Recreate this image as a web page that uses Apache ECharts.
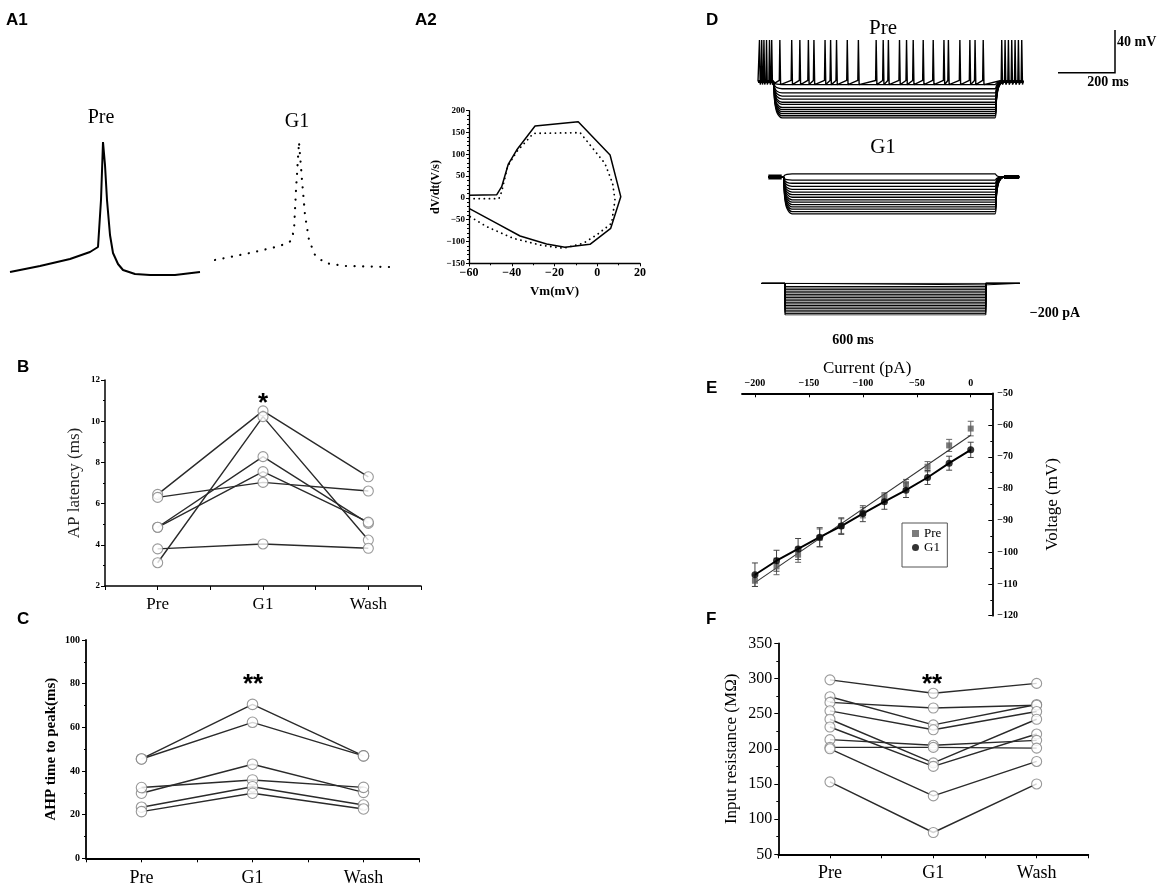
<!DOCTYPE html>
<html><head><meta charset="utf-8">
<script src="https://cdn.jsdelivr.net/npm/echarts@6/dist/echarts.min.js"></script>
<style>html,body{margin:0;padding:0;background:#fff}#c{width:1169px;height:895px}</style>
</head><body><div id="c"></div>
<script>
// ================= DATA =================
const groups = ['Pre', 'G1', 'Wash'];

// A1: single action potentials (time ms, Vm mV)
const a1PreTrace = [[0,-73.6],[15,-68.8],[30,-63.2],[40,-57.6],[44,-53.6],[45.5,-16],[46.5,30.4],[47.5,12],[48.5,-16],[50,-44],[51.5,-58.4],[54,-67.2],[56.5,-72],[62.5,-75.2],[70,-76],[82.5,-76],[95,-73.6]];
const a1G1Trace = [[0,-64],[17.5,-58.4],[32.5,-52.8],[38,-48.8],[39.5,-40],[40.5,-8],[42,30.4],[43.5,0],[45,-28],[47,-48],[50,-60],[55,-66.4],[65,-68.8],[87.5,-69.6]];

// A2: phase plots (Vm mV, dV/dt V/s)
const a2Pre = [[-60,5.9],[-47,7.4],[-44.7,25.7],[-41.6,77.6],[-37.7,109.7],[-29.1,164.8],[-8.9,174.8],[6,98.3],[11,2.8],[6.3,-69.8],[-3.4,-106.5],[-15.1,-113.4],[-23.7,-105.7],[-36.1,-87.4],[-47,-58.3],[-60,-23.9]];
const a2G1 = [[-60,-1.7],[-46,-1.7],[-44.7,14.3],[-42,71.5],[-37.7,106],[-29.9,148],[-8,149.6],[3.6,79],[7.2,33],[8.3,-4.8],[6.7,-58.3],[-0.3,-85],[-6.5,-104],[-15.9,-115.6],[-26.8,-108],[-39.3,-92.7],[-51.7,-66],[-59.5,-43]];

// D: step protocol traces
const dPreTiming = [0, 41, 640, 716];      // start, step on, step off, end (ms)
const dPreBase = -60;
const dPreSpikePeak = -20;
const dPreLevels = [-63, -67, -71, -74, -77, -80, -82, -85, -87, -89, -91, -93, -95];
const dPreSpikeTimes = [4,10,16,23,31,37,59,91,113,136,151,181,196,212,241,271,319,338,352,382,401,419,446,473,502,514,545,572,586,608,658,667,676,685,694,703,712];
const dG1Timing = [28, 68, 640, 705];
const dG1Base = -60;
const dG1Levels = [-57, -63, -66, -69, -72, -74.5, -77, -79.5, -82, -84.3, -86.6, -88.8, -91, -93.3, -95.5];
const dCurrentTiming = [10, 73, 615, 707];
const dCurrents = [0,-10,-20,-30,-40,-50,-60,-70,-80,-90,-100,-110,-120,-130,-140,-150,-160,-170,-180,-190,-200];

// B: AP latency (ms), one row per cell: Pre, G1, Wash
const bLatency = [[6.45,10.5,7.3],[3.13,10.22,4.23],[4.85,8.28,5.04],[4.85,7.55,5.1],[6.3,7.03,6.61],[3.8,4.04,3.83]];
// C: AHP time to peak (ms)
const cAhp = [[45.5,70.5,46.9],[45.5,62.3,46.9],[29.8,43.1,30.2],[32.4,35.9,32.5],[23.4,32.8,24.4],[21.4,29.8,22.6]];
// E: I-V relation
const eCurrent = [0,-20,-40,-60,-80,-100,-120,-140,-160,-180,-200];
const ePreV = [-61.1,-66.4,-73.1,-78.6,-82.8,-87.6,-91.8,-95.5,-100.8,-104.5,-109];
const ePreErr = [2.3,1.9,1.6,1.5,1.5,1.6,2.3,2.8,2.4,2.6,1.8];
const eG1V = [-67.8,-72,-76.5,-80.5,-84.1,-87.9,-91.8,-95.3,-99,-102.7,-107.1];
const eG1Err = [2.4,2.2,2.2,2.3,2.4,2.5,2.6,3.0,3.3,3.3,3.7];
const ePreFit = [[-200,-109.6],[0,-63.2]];
// F: input resistance (MOhm)
const fRin = [[298,279,293],[274,234,263],[266,258,262],[254,227,253],[242,180,242],[231,175,221],[213,205,212],[202,202,201],[200,133,182],[153,81,150]];

// ================= BUILD =================
const serif = '"Liberation Serif","Times New Roman",serif';
const sans = '"Liberation Sans",Arial,sans-serif';
const minus = v => String(v).replace('-', '\u2212');

const grids = [], xAxes = [], yAxes = [], series = [];
function hiddenGrid(g, xr, yr) {
  const i = grids.length;
  grids.push(Object.assign({containLabel:false}, g));
  xAxes.push({type:'value', gridIndex:i, min:xr[0], max:xr[1], show:false});
  yAxes.push({type:'value', gridIndex:i, min:yr[0], max:yr[1], show:false});
  return i;
}
function addLine(gi, data, style, extra) {
  series.push(Object.assign({type:'line', xAxisIndex:gi, yAxisIndex:gi, data, showSymbol:false, silent:true,
    animation:false, lineStyle:Object.assign({color:'#000', width:1.5}, style)}, extra || {}));
}

// --- A1
const gA1p = hiddenGrid({left:10, top:130, width:190, height:150}, [0,95], [-80,40]);
addLine(gA1p, a1PreTrace, {width:2});
const gA1g = hiddenGrid({left:215, top:130, width:175, height:150}, [0,87.5], [-80,40]);
addLine(gA1g, a1G1Trace, {width:2.2, type:[0.1,8.5], cap:'round'});

// --- A2
const gA2 = grids.length;
grids.push({left:469, top:110.7, width:171, height:152.6});
xAxes.push({type:'value', gridIndex:gA2, min:-60, max:20, interval:20,
  name:'Vm(mV)', nameLocation:'middle', nameGap:22,
  nameTextStyle:{fontFamily:serif, fontWeight:'bold', fontSize:13, color:'#000'},
  axisLine:{onZero:false, lineStyle:{color:'#000', width:1.3}},
  axisTick:{length:3, lineStyle:{color:'#000'}}, minorTick:{show:true, splitNumber:2, length:2, lineStyle:{color:'#000'}},
  splitLine:{show:false},
  axisLabel:{fontFamily:serif, fontWeight:'bold', fontSize:12, color:'#000', margin:4, formatter:minus}});
yAxes.push({type:'value', gridIndex:gA2, min:-150, max:200, interval:50,
  name:'dV/dt(V/s)', nameLocation:'middle', nameGap:27,
  nameTextStyle:{fontFamily:serif, fontWeight:'bold', fontSize:12, color:'#000'},
  axisLine:{show:true, onZero:false, lineStyle:{color:'#000', width:1.3}},
  axisTick:{show:true, length:3, lineStyle:{color:'#000'}}, minorTick:{show:true, splitNumber:5, length:2, lineStyle:{color:'#000'}},
  splitLine:{show:false},
  axisLabel:{fontFamily:serif, fontWeight:'bold', fontSize:9, color:'#000', margin:4, formatter:minus}});
addLine(gA2, a2Pre, {width:1.5});
addLine(gA2, a2G1, {width:1.8, type:[0.1,5], cap:'round'});

// --- D
function stepTrace(tm, base, lvl) {
  const d = lvl - base;
  return [[tm[0],base],[tm[1],base],[tm[1]+4,base+d*0.55],[tm[1]+10,base+d*0.85],[tm[1]+24,lvl],
          [tm[2],lvl],[tm[2]+4,lvl-d*0.5],[tm[2]+10,lvl-d*0.85],[tm[2]+24,base],[tm[3],base]];
}
function spikeTrace(tm, base, peak, times) {
  const pts = [[tm[0], base]];
  times.forEach(t => { pts.push([t-1.5, base+1], [t, peak], [t+2, base-3]); });
  pts.push([tm[3], base]);
  return pts;
}
const gDp = hiddenGrid({left:758, top:40, width:266.7, height:83}, [0,720], [-100,-20]);
dPreLevels.forEach(l => addLine(gDp, stepTrace(dPreTiming, dPreBase, l), {width:1.3}, {smooth:0.3}));
addLine(gDp, spikeTrace(dPreTiming, dPreBase, dPreSpikePeak, dPreSpikeTimes), {width:1.4});

const gDg = hiddenGrid({left:758, top:135.5, width:266.7, height:83}, [0,720], [-100,-20]);
dG1Levels.forEach(l => addLine(gDg, stepTrace(dG1Timing, dG1Base, l), {width:1.3}, {smooth:0.3}));
addLine(gDg, [[dG1Timing[0], dG1Base], [dG1Timing[1]-4, dG1Base]], {width:5});
addLine(gDg, [[dG1Timing[2]+24, dG1Base], [dG1Timing[3], dG1Base]], {width:4});

const gDi = hiddenGrid({left:758, top:283.3, width:266.7, height:31.7}, [0,720], [-200,0]);
dCurrents.forEach(c => addLine(gDi, [[dCurrentTiming[0],0],[dCurrentTiming[1],0],[dCurrentTiming[1],c],
  [dCurrentTiming[2],c],[dCurrentTiming[2],0],[dCurrentTiming[3],0]], {width:1}));

// --- paired plots (B, C, F)
function pairedPanel(grid, yCfg, rows, opt) {
  const gi = grids.length;
  grids.push(grid);
  xAxes.push({type:'value', gridIndex:gi, min:-0.5, max:2.5, interval:0.5,
    axisLine:{onZero:false, lineStyle:{color:'#000', width:opt.axisWidth}},
    axisTick:{length:4, lineStyle:{color:'#000', width:1}},
    splitLine:{show:false},
    axisLabel:{fontFamily:serif, fontSize:opt.xFont, color:'#000', margin:opt.xMargin,
      showMinLabel:true, showMaxLabel:true,
      formatter: v => (Math.abs(v - Math.round(v)) < 1e-6 && v >= 0 && v <= 2) ? groups[Math.round(v)] : ''}});
  yAxes.push(Object.assign({type:'value', gridIndex:gi, nameLocation:'middle',
    axisLine:{show:true, onZero:false, lineStyle:{color:'#000', width:opt.axisWidth}},
    axisTick:{show:true, length:4, lineStyle:{color:'#000'}},
    minorTick:{show:true, splitNumber:2, length:2, lineStyle:{color:'#000'}},
    splitLine:{show:false}}, yCfg));
  rows.forEach(r => series.push({type:'line', xAxisIndex:gi, yAxisIndex:gi, showSymbol:false, silent:true, animation:false,
    data: r.map((v, i) => [i, v]), lineStyle:{color:'#2a2a2a', width:1.4}, z:2}));
  const pts = [];
  rows.forEach(r => r.forEach((v, i) => pts.push([i, v])));
  series.push({type:'scatter', xAxisIndex:gi, yAxisIndex:gi, data:pts, symbol:'circle', symbolSize:opt.sym,
    silent:true, animation:false, itemStyle:{color:'#fff', borderColor:'#808080', borderWidth:1.1}, z:5});
}

pairedPanel({left:105, top:380, width:316, height:206},
  {min:2, max:12, interval:2, name:'AP latency (ms)', nameGap:22,
   nameTextStyle:{fontFamily:serif, fontSize:17, color:'#222'},
   axisLabel:{fontFamily:serif, fontWeight:'bold', fontSize:9, color:'#000', margin:5}},
  bLatency, {axisWidth:1.5, xFont:17, xMargin:10, sym:10});

pairedPanel({left:86, top:640, width:333, height:218.3},
  {min:0, max:100, interval:20, name:'AHP time to peak(ms)', nameGap:27,
   nameTextStyle:{fontFamily:serif, fontWeight:'bold', fontSize:15, color:'#000'},
   axisLabel:{fontFamily:serif, fontWeight:'bold', fontSize:10, color:'#000', margin:6}},
  cAhp, {axisWidth:1.8, xFont:18, xMargin:11, sym:10.5});

pairedPanel({left:778.3, top:643.3, width:310, height:211},
  {min:50, max:350, interval:50, name:'Input resistance (M\u03a9)', nameGap:38,
   nameTextStyle:{fontFamily:serif, fontSize:17, color:'#000'},
   axisLabel:{fontFamily:serif, fontSize:16, color:'#000', margin:6}},
  fRin, {axisWidth:1.8, xFont:18, xMargin:10, sym:10});

// --- E
const gE = grids.length;
grids.push({left:742, top:393.3, width:250.3, height:222.4});
xAxes.push({type:'value', gridIndex:gE, position:'top', min:-212, max:20,
  name:'Current (pA)', nameLocation:'middle', nameGap:14,
  nameTextStyle:{fontFamily:serif, fontSize:17, color:'#000'},
  axisLine:{onZero:false, lineStyle:{color:'#000', width:1.8}},
  axisTick:{inside:true, length:4, customValues:[-200,-150,-100,-50,0], lineStyle:{color:'#000'}},
  splitLine:{show:false},
  axisLabel:{customValues:[-200,-150,-100,-50,0], fontFamily:serif, fontWeight:'bold', fontSize:10, color:'#000', margin:5, formatter:minus}});
yAxes.push({type:'value', gridIndex:gE, position:'right', min:-120, max:-50, interval:10,
  name:'Voltage (mV)', nameLocation:'middle', nameGap:52, nameRotate:90,
  nameTextStyle:{fontFamily:serif, fontSize:17, color:'#000'},
  axisLine:{show:true, onZero:false, lineStyle:{color:'#000', width:1.8}},
  axisTick:{show:true, inside:true, length:4, lineStyle:{color:'#000'}},
  minorTick:{show:true, splitNumber:2, length:2, lineStyle:{color:'#000'}},
  splitLine:{show:false},
  axisLabel:{fontFamily:serif, fontWeight:'bold', fontSize:10, color:'#000', margin:5, formatter:minus}});
function errBars(vals, errs, color) {
  return {type:'custom', xAxisIndex:gE, yAxisIndex:gE, silent:true, animation:false, z:3,
    data: eCurrent.map((c, i) => [c, vals[i] - errs[i], vals[i] + errs[i]]),
    renderItem: (params, api) => {
      const x = api.value(0);
      const lo = api.coord([x, api.value(1)]), hi = api.coord([x, api.value(2)]);
      const w = 3, st = {stroke:color, lineWidth:1};
      return {type:'group', children:[
        {type:'line', shape:{x1:lo[0], y1:lo[1], x2:hi[0], y2:hi[1]}, style:st},
        {type:'line', shape:{x1:lo[0]-w, y1:lo[1], x2:lo[0]+w, y2:lo[1]}, style:st},
        {type:'line', shape:{x1:hi[0]-w, y1:hi[1], x2:hi[0]+w, y2:hi[1]}, style:st}]};
    }};
}
series.push(errBars(ePreV, ePreErr, '#666'));
series.push(errBars(eG1V, eG1Err, '#444'));
series.push({type:'line', name:'PreFit', xAxisIndex:gE, yAxisIndex:gE, data:ePreFit, showSymbol:false, silent:true, animation:false,
  lineStyle:{color:'#333', width:1.1}, z:4});
series.push({type:'line', name:'G1Line', xAxisIndex:gE, yAxisIndex:gE, data:eCurrent.map((c, i) => [c, eG1V[i]]), showSymbol:false,
  silent:true, animation:false, lineStyle:{color:'#000', width:2}, z:4});
series.push({type:'scatter', name:'Pre', xAxisIndex:gE, yAxisIndex:gE, data:eCurrent.map((c, i) => [c, ePreV[i]]),
  symbol:'rect', symbolSize:6, itemStyle:{color:'#5a5a5a'}, silent:true, animation:false, z:6});
series.push({type:'scatter', name:'G1', xAxisIndex:gE, yAxisIndex:gE, data:eCurrent.map((c, i) => [c, eG1V[i]]),
  symbol:'circle', symbolSize:7, itemStyle:{color:'#000'}, silent:true, animation:false, z:6});

// ================= TEXT / DECORATION =================
function txt(text, x, y, font, align, vAlign, extra) {
  return Object.assign({type:'text', x, y, silent:true,
    style:{text, font, fill:'#000', align:align || 'left', verticalAlign:vAlign || 'top'}}, extra || {});
}
const pl = 'bold 17px ' + sans;
const graphic = [
  txt('A1', 6, 12, pl), txt('A2', 415, 12, pl), txt('D', 706, 12, pl),
  txt('B', 17, 359, pl), txt('C', 17, 611, pl), txt('E', 706, 380, pl), txt('F', 706, 611, pl),
  txt('Pre', 101, 118, '20px ' + serif, 'center', 'middle'),
  txt('G1', 297, 122, '20px ' + serif, 'center', 'middle'),
  txt('Pre', 883, 28, '21px ' + serif, 'center', 'middle'),
  txt('G1', 883, 147, '21px ' + serif, 'center', 'middle'),
  txt('40 mV', 1117, 42, 'bold 14px ' + serif, 'left', 'middle'),
  txt('200 ms', 1108, 82, 'bold 14px ' + serif, 'center', 'middle'),
  txt('600 ms', 853, 340, 'bold 14px ' + serif, 'center', 'middle'),
  txt('\u2212200 pA', 1055, 313, 'bold 14px ' + serif, 'center', 'middle'),
  txt('*', 263, 404, 'bold 26px ' + sans, 'center', 'middle'),
  txt('**', 253, 685, 'bold 26px ' + sans, 'center', 'middle'),
  txt('**', 932, 685, 'bold 26px ' + sans, 'center', 'middle'),
  {type:'polyline', silent:true, shape:{points:[[1058,72.7],[1115,72.7],[1115,30]]}, style:{stroke:'#000', lineWidth:1.5, fill:null}}
];

const chart = echarts.init(document.getElementById('c'), null, {renderer:'canvas'});
chart.setOption({
  backgroundColor:'#fff',
  animation:false,
  grid:grids, xAxis:xAxes, yAxis:yAxes, series,
  legend:{show:true, orient:'vertical', left:902, top:523, data:[{name:'Pre', icon:'rect'}, {name:'G1', icon:'circle'}],
    itemWidth:7, itemHeight:7, itemGap:1, padding:[4,6,13,10], borderColor:'#555', borderWidth:1,
    textStyle:{fontFamily:serif, fontSize:13, lineHeight:13, color:'#000'}, selectedMode:false},
  graphic
});
</script></body></html>
